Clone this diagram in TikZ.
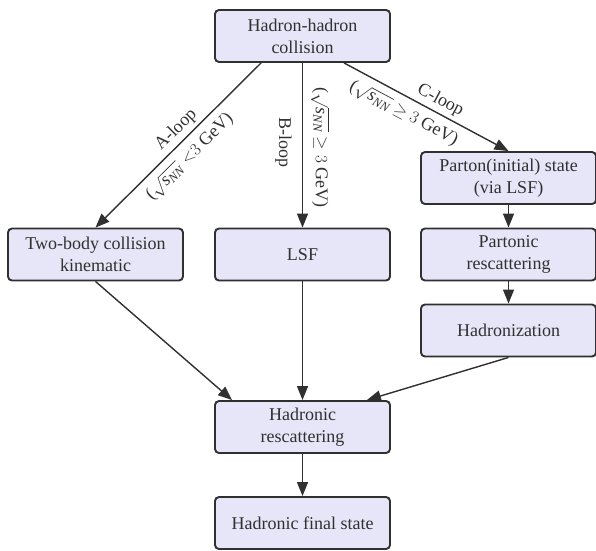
\documentclass[tikz,border=0pt]{standalone}
\usepackage{amsmath}
\usepackage{fontspec}
\setmainfont{Liberation Serif}
\usetikzlibrary{arrows.meta,calc}
\definecolor{boxfill}{HTML}{E6E6F8}
\definecolor{ink}{HTML}{303030}
\newcommand{\snn}{\sqrt{\text{\itshape s}_{\text{\itshape NN}}}}
\begin{document}
\begin{tikzpicture}[x=1pt,y=-1pt,
  box/.style={draw=ink, line width=1.9pt, fill=boxfill, rounded corners=4pt,
    minimum width=175pt, minimum height=52pt, align=center,
    font=\fontsize{18}{22}\selectfont, text=ink, inner sep=0pt},
  arr/.style={draw=ink, line width=1.4pt, -{Triangle[length=14pt,width=11pt]}},
  lbl/.style={font=\fontsize{18}{21}\selectfont, text=ink, inner sep=1pt}]
\useasboundingbox (0,0) rectangle (596,550);

\node[box] (top) at (302.5,36) {Hadron-hadron\\collision};
\node[box] (tb)  at (95.5,254.5) {Two-body collision\\kinematic};
\node[box] (lsf) at (302.5,254.5) {LSF};
\node[box] (pis) at (508.5,178) {Parton(initial) state\\(via LSF)};
\node[box] (pr)  at (508.5,254.5) {Partonic\\rescattering};
\node[box] (hz)  at (508.5,330.5) {Hadronization};
\node[box] (hr)  at (302.5,427) {Hadronic\\rescattering};
\node[box] (fs)  at (302.5,523) {Hadronic final state};

\coordinate (aS) at ([xshift=47pt]top.south west);
\coordinate (cS) at ([xshift=130pt]top.south west);

% A-loop
\draw[arr] (aS) -- (tb.north)
  node[lbl, sloped, pos=0.46, above=2.5pt] {A-loop}
  node[lbl, sloped, pos=0.50, below=6pt] {($\snn\;{<}3$~GeV)};
% B-loop
\draw[arr] (top.south) -- (lsf.north);
\node[lbl, rotate=-90] (bl) at (283.5,142.5) {B-loop};
\node[lbl, rotate=-90] (bc) at (320,147.5) {($\snn\;{\geq}\;3$~GeV)};
% C-loop
\draw[arr] (cS) -- (pis.north)
  node[lbl, sloped, pos=0.55, above=2.5pt] {C-loop}
  node[lbl, sloped, pos=0.41, below=6pt] {($\snn\;{\geq}\;3$~GeV)};

\draw[arr] (pis) -- (pr);
\draw[arr] (pr) -- (hz);
\draw[arr] (lsf) -- (hr);
\draw[arr] (hr) -- (fs);
\draw[arr] (tb.south) -- ([xshift=18pt]hr.north west);
\draw[arr] (hz.south) -- ([xshift=-24pt]hr.north east);
\end{tikzpicture}
\end{document}
